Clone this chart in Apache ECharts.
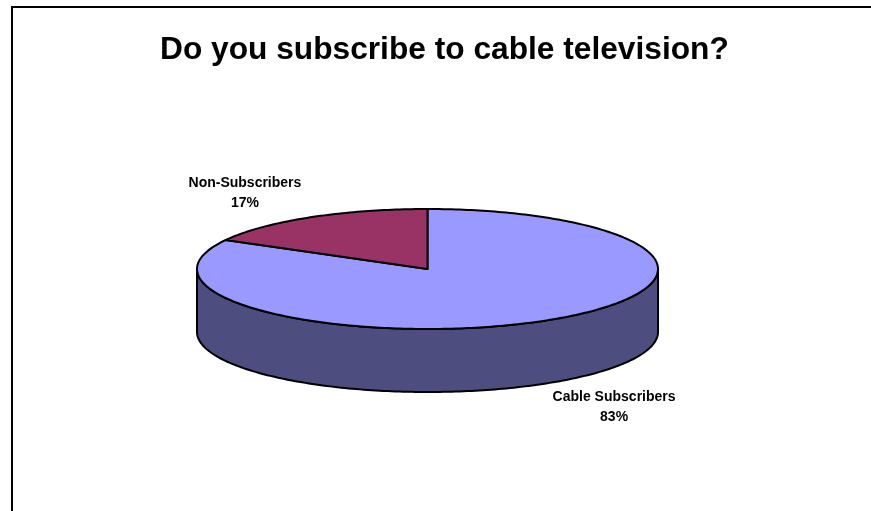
<!DOCTYPE html>
<html>
<head>
<meta charset="utf-8">
<script src="https://cdn.jsdelivr.net/npm/echarts@6/dist/echarts.min.js"></script>
<style>
  html, body { margin: 0; padding: 0; background: #ffffff; }
  #chart { width: 871px; height: 511px; }
</style>
</head>
<body>
<div id="chart"></div>
<script>
// Survey answers
const categories = ['Cable Subscribers', 'Non-Subscribers'];
const shares = [83, 17];

const FONT = 'Arial, "Liberation Sans", Helvetica, sans-serif';

// Tilted pie geometry in pixels: centre, radii of the top ellipse, wall height
const PIE = { cx: 427.5, cy: 269, rx: 230.5, ry: 60, depth: 63 };
const topColors = ['#9999FF', '#993366'];
const sideColors = ['#4D4D80', '#4D1A33'];
// label placement relative to the ellipse radii
const LABEL_K = { x: 1.573, y: 1.46, dx: 2 };

const total = shares.reduce((a, b) => a + b, 0);

// angle a is measured clockwise from 12 o'clock, in degrees
function pt(a, dy) {
  const r = a * Math.PI / 180;
  return [PIE.cx + PIE.rx * Math.sin(r), PIE.cy - PIE.ry * Math.cos(r) + (dy || 0)];
}
function arc(a0, a1, dy) {
  const n = Math.max(2, Math.ceil(Math.abs(a1 - a0)));
  const pts = [];
  for (let k = 0; k <= n; k++) pts.push(pt(a0 + (a1 - a0) * k / n, dy));
  return pts;
}

function renderItem(params, api) {
  const i = params.dataIndex;
  const value = api.value(0);
  let start = 0;
  for (let j = 0; j < i; j++) start += shares[j];
  const a0 = start / total * 360;
  const a1 = (start + value) / total * 360;
  const children = [];

  // outer wall: only the front half (90..270 deg) is visible
  const s0 = Math.max(a0, 90), s1 = Math.min(a1, 270);
  if (s1 > s0) {
    const pts = arc(s0, s1, 0).concat(arc(s1, s0, PIE.depth));
    children.push({
      type: 'polygon',
      shape: { points: pts },
      style: { fill: sideColors[i], stroke: '#000', lineWidth: 2, lineJoin: 'round' }
    });
  }

  // top face of the slice
  const topPts = [[PIE.cx, PIE.cy]].concat(arc(a0, a1, 0));
  children.push({
    type: 'polygon',
    shape: { points: topPts },
    style: { fill: topColors[i], stroke: '#000', lineWidth: 2, lineJoin: 'round' }
  });

  // category label with percentage
  const mid = (a0 + a1) / 2 * Math.PI / 180;
  const front = Math.cos(mid) < 0;
  const lx = PIE.cx + LABEL_K.dx + PIE.rx * LABEL_K.x * Math.sin(mid);
  const ly = PIE.cy - PIE.ry * LABEL_K.y * Math.cos(mid) + (front ? PIE.depth : 0);
  children.push({
    type: 'text',
    x: lx, y: ly,
    style: {
      text: categories[i] + '\n' + Math.round(value / total * 100) + '%',
      align: 'center', verticalAlign: 'middle',
      fontFamily: FONT, fontWeight: 'bold', fontSize: 14, lineHeight: 20,
      fill: '#000'
    }
  });

  return { type: 'group', children: children };
}

const chart = echarts.init(document.getElementById('chart'), null, { renderer: 'canvas' });
chart.setOption({
  animation: false,
  backgroundColor: '#ffffff',
  title: {
    text: 'Do you subscribe to cable television?',
    left: 160,
    top: 34,
    padding: 0,
    textStyle: { fontFamily: FONT, fontWeight: 'bold', fontSize: 31.7, color: '#000' }
  },
  graphic: [{
    type: 'rect',
    shape: { x: 12, y: 7, width: 1200, height: 1200 },
    style: { fill: 'none', stroke: '#000', lineWidth: 2 },
    silent: true
  }],
  series: [{
    type: 'custom',
    coordinateSystem: 'none',
    renderItem: renderItem,
    data: shares.map((v, i) => ({ name: categories[i], value: [v] }))
  }]
});
</script>
</body>
</html>
